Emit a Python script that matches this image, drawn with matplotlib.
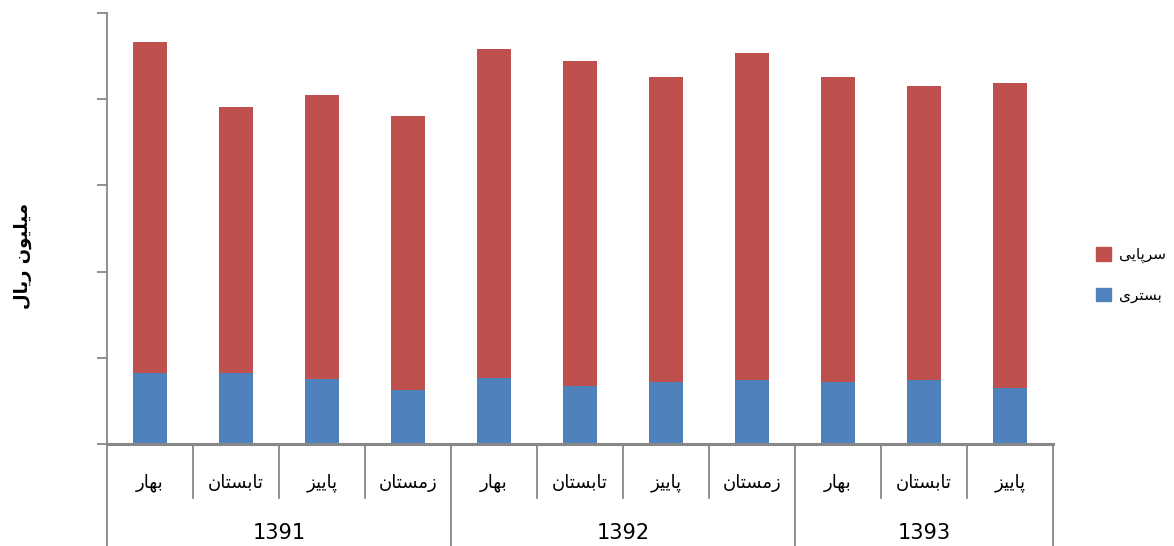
import matplotlib
matplotlib.use("Agg")
import matplotlib.pyplot as plt
from matplotlib.patches import Patch
import numpy as np

# Daten (ablesen vom Bild, Einheit willkuerlich: 20 pro Teilstrich)
seasons = ["بهار", "تابستان", "پاییز", "زمستان",
           "بهار", "تابستان", "پاییز", "زمستان",
           "بهار", "تابستان", "پاییز"]
years = ["1391", "1392", "1393"]
year_sizes = [4, 4, 3]
bastari = [16.5, 16.5, 15.1, 12.4, 15.2, 13.3, 14.3, 14.7, 14.3, 14.7, 12.9]
sarpaei = [76.8, 61.8, 66.0, 63.7, 76.4, 75.5, 70.9, 76.0, 70.9, 68.3, 71.0]
ylabel = "میلیون ریال"
legend_labels = ["سرپایی", "بستری"]

RED = "#C0504D"
BLUE = "#4F81BD"
GRAY = "#878787"

# isolated, final, initial, medial
FORMS = {
    "ا": ("\uFE8D", "\uFE8E", None, None),
    "ب": ("\uFE8F", "\uFE90", "\uFE91", "\uFE92"),
    "ت": ("\uFE95", "\uFE96", "\uFE97", "\uFE98"),
    "ر": ("\uFEAD", "\uFEAE", None, None),
    "ز": ("\uFEAF", "\uFEB0", None, None),
    "س": ("\uFEB1", "\uFEB2", "\uFEB3", "\uFEB4"),
    "ل": ("\uFEDD", "\uFEDE", "\uFEDF", "\uFEE0"),
    "م": ("\uFEE1", "\uFEE2", "\uFEE3", "\uFEE4"),
    "ن": ("\uFEE5", "\uFEE6", "\uFEE7", "\uFEE8"),
    "ه": ("\uFEE9", "\uFEEA", "\uFEEB", "\uFEEC"),
    "و": ("\uFEED", "\uFEEE", None, None),
    "پ": ("\uFB56", "\uFB57", "\uFB58", "\uFB59"),
    "ی": ("\uFBFC", "\uFBFD", "\uFBFE", "\uFBFF"),
}


def fa(text):
    # einfache Formung + umdrehen fuer die Anzeige
    out = []
    for i, c in enumerate(text):
        if c not in FORMS:
            out.append(c)
            continue
        prev = text[i - 1] if i > 0 else None
        nxt = text[i + 1] if i + 1 < len(text) else None
        joins_prev = prev in FORMS and FORMS[prev][2] is not None
        joins_next = FORMS[c][2] is not None and nxt in FORMS
        iso, fin, ini, med = FORMS[c]
        if joins_prev and joins_next:
            out.append(med)
        elif joins_prev:
            out.append(fin)
        elif joins_next:
            out.append(ini)
        else:
            out.append(iso)
    return "".join(reversed(out))


def main():
    plt.rcParams["font.family"] = ["DejaVu Sans"]

    W, H = 1174, 546
    fig = plt.figure(figsize=(W / 100, H / 100), dpi=100)
    left, right, top, base = 107, 1053, 13.2, 443.7
    ax = fig.add_axes([left / W, 1 - base / H, (right - left) / W, (base - top) / H])

    x = np.arange(len(seasons))
    ax.bar(x, bastari, width=0.4, color=BLUE, zorder=2)
    ax.bar(x, sarpaei, width=0.4, bottom=bastari, color=RED, zorder=2)

    ax.set_xlim(-0.5, len(seasons) - 0.5)
    ax.set_ylim(0, 100)
    ax.set_yticks(np.arange(0, 101, 20))
    ax.set_yticklabels([])
    ax.set_xticks([])
    ax.tick_params(axis="y", direction="out", length=7, width=1.3, color=GRAY)

    for s in ["top", "right"]:
        ax.spines[s].set_visible(False)
    ax.spines["left"].set_color(GRAY)
    ax.spines["left"].set_linewidth(1.3)
    ax.spines["bottom"].set_color(GRAY)
    ax.spines["bottom"].set_linewidth(2.2)

    # mehrstufige x-Achse
    trans = ax.get_xaxis_transform()
    h_ax = (base - top)
    sep_low = -(498 - base) / h_ax
    grp_low = -(H - base) / h_ax
    season_y = -(483 - base) / h_ax
    year_y = -(533 - base) / h_ax

    for i, s in enumerate(seasons):
        ax.text(i, season_y, fa(s), transform=trans, ha="center", va="center",
                fontsize=13)

    boundaries = np.cumsum([0] + year_sizes) - 0.5
    for b in np.arange(-0.5, len(seasons), 1.0):
        low = grp_low if np.any(np.isclose(boundaries, b)) else sep_low
        ax.plot([b, b], [0, low], transform=trans, color=GRAY, lw=1.3,
                clip_on=False, zorder=1)

    for k, yr in enumerate(years):
        mid = (boundaries[k] + boundaries[k + 1]) / 2
        ax.text(mid, year_y, yr, transform=trans, ha="center", va="center",
                fontsize=15)

    fig.text(23 / W, 1 - 256 / H, fa(ylabel), rotation=90, ha="center",
             va="center", fontsize=13, fontweight="bold")

    handles = [Patch(color=RED), Patch(color=BLUE)]
    fig.legend(handles, [fa(t) for t in legend_labels], loc="center left",
               bbox_to_anchor=(1096 / W, 1 - 275 / H), frameon=False,
               fontsize=11, handlelength=1.0, handleheight=1.0,
               handletextpad=0.5, labelspacing=1.6, borderpad=0,
               borderaxespad=0)

    fig.savefig("out.png", dpi=100)


if __name__ == "__main__":
    main()
